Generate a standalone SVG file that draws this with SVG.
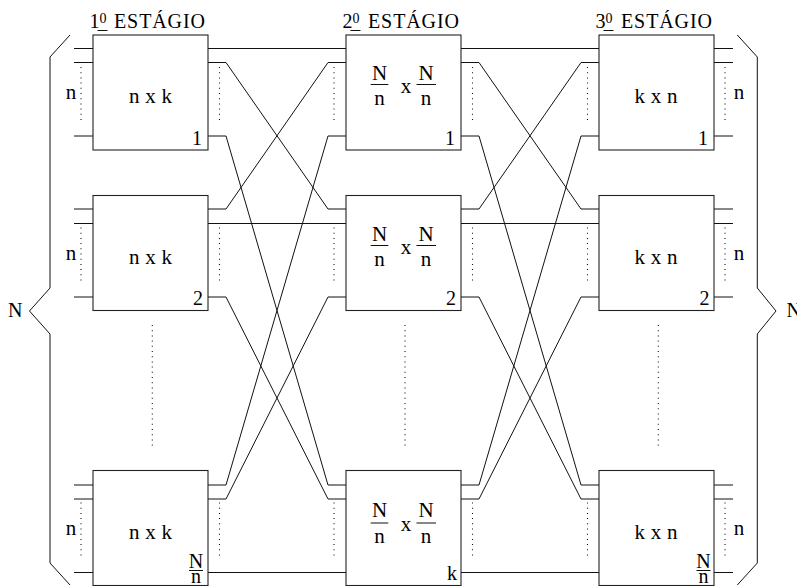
<svg xmlns="http://www.w3.org/2000/svg" width="797" height="586" viewBox="0 0 797 586">
<style>
  .box{fill:#fff;stroke:#222;stroke-width:1.1}
  .ln{fill:none;stroke:#111;stroke-width:1}
  .dot{fill:none;stroke:#111;stroke-width:1.1;stroke-dasharray:1 4.2}
  text{font-family:"Liberation Serif","Times New Roman",serif;fill:#000;font-size:20px}
  .lbl{font-size:21px}
  .mid{text-anchor:middle}
  .end{text-anchor:end}
</style>
<rect width="797" height="586" fill="#fff"/>

<!-- titles -->
<g id="titles">
  <text><tspan x="89.5" y="27.7">1</tspan><tspan x="99.5" y="23" font-size="14">0</tspan><tspan x="114" y="27.7" textLength="91" lengthAdjust="spacing">ESTÁGIO</tspan></text>
  <line class="ln" x1="97.5" y1="30.5" x2="107.5" y2="30.5"/>
  <text><tspan x="342.5" y="27.7">2</tspan><tspan x="352.5" y="23" font-size="14">0</tspan><tspan x="368" y="27.7" textLength="91" lengthAdjust="spacing">ESTÁGIO</tspan></text>
  <line class="ln" x1="350.5" y1="30.5" x2="360.5" y2="30.5"/>
  <text><tspan x="595.5" y="27.7">3</tspan><tspan x="605.5" y="23" font-size="14">0</tspan><tspan x="621" y="27.7" textLength="91" lengthAdjust="spacing">ESTÁGIO</tspan></text>
  <line class="ln" x1="603.5" y1="30.5" x2="613.5" y2="30.5"/>
</g>

<!-- braces -->
<g id="brace-left">
  <path class="ln" d="M70 35 L50 57 V288 L29.5 311 L50 334 V563 L70 585"/>
  <text x="8" y="316.7" font-size="18">N</text>
</g>
<g id="brace-right">
  <path class="ln" d="M737.3 35 L757.3 57 V288 L776 311 L757.3 334 V563 L737.3 585"/>
  <text x="786.5" y="316.7" font-size="18">N</text>
</g>

<!-- connectors -->
<g id="connectors">
  <!-- stage 1 -> stage 2 -->
  <path class="ln" d="M208 48.5 H346"/>
  <path class="ln" d="M208 62.5 H226 L328 209 H346"/>
  <path class="ln" d="M208 136 H226 L328 485 H346"/>
  <path class="ln" d="M208 209 H226 L328 62.5 H346"/>
  <path class="ln" d="M208 223.5 H346"/>
  <path class="ln" d="M208 297 H226 L328 499 H346"/>
  <path class="ln" d="M208 485 H226 L328 136 H346"/>
  <path class="ln" d="M208 499 H226 L328 297 H346"/>
  <path class="ln" d="M208 572.5 H346"/>
  <!-- stage 2 -> stage 3 -->
  <path class="ln" d="M461 48.5 H599"/>
  <path class="ln" d="M461 62.5 H479 L581 209 H599"/>
  <path class="ln" d="M461 136 H479 L581 485 H599"/>
  <path class="ln" d="M461 209 H479 L581 62.5 H599"/>
  <path class="ln" d="M461 223.5 H599"/>
  <path class="ln" d="M461 297 H479 L581 499 H599"/>
  <path class="ln" d="M461 485 H479 L581 136 H599"/>
  <path class="ln" d="M461 499 H479 L581 297 H599"/>
  <path class="ln" d="M461 572.5 H599"/>
  <!-- inputs / outputs -->
  <path class="ln" d="M74 48.5 H93 M74 62.5 H93 M74 136 H93 M74 209 H93 M74 223.5 H93 M74 297 H93 M74 485 H93 M74 499 H93 M74 572.5 H93"/>
  <path class="ln" d="M714 48.5 H733 M714 62.5 H733 M714 136 H733 M714 209 H733 M714 223.5 H733 M714 297 H733 M714 485 H733 M714 499 H733 M714 572.5 H733"/>
  <!-- dotted elisions beside boxes -->
  <path class="dot" d="M81 67 V123 M219.5 67 V123 M334 67 V123 M472.5 67 V123 M587.5 67 V123 M725 67 V123"/>
  <path class="dot" d="M81 227.5 V283.5 M219.5 227.5 V283.5 M334 227.5 V283.5 M472.5 227.5 V283.5 M587.5 227.5 V283.5 M725 227.5 V283.5"/>
  <path class="dot" d="M81 502.5 V558.5 M219.5 502.5 V558.5 M334 502.5 V558.5 M472.5 502.5 V558.5 M587.5 502.5 V558.5 M725 502.5 V558.5"/>
  <!-- dotted elisions between rows -->
  <path class="dot" d="M152.3 325 V447 M405 325 V447 M658.3 325 V447"/>
</g>

<!-- stage 1 -->
<g id="s1-box1">
  <rect class="box" x="93" y="35" width="115" height="115"/>
  <text class="mid lbl" x="150.5" y="103.3" textLength="43" lengthAdjust="spacing">n x k</text>
  <text class="mid lbl" x="71" y="99">n</text>
  <text class="end" x="202" y="144.5">1</text>
</g>
<g id="s1-box2">
  <rect class="box" x="93" y="195.5" width="115" height="115"/>
  <text class="mid lbl" x="150.5" y="263.8" textLength="43" lengthAdjust="spacing">n x k</text>
  <text class="mid lbl" x="71" y="259.5">n</text>
  <text class="end" x="203" y="305">2</text>
</g>
<g id="s1-box3">
  <rect class="box" x="93" y="470.5" width="115" height="115"/>
  <text class="mid lbl" x="150.5" y="539" textLength="43" lengthAdjust="spacing">n x k</text>
  <text class="mid lbl" x="71" y="534.5">n</text>
  <text class="mid" x="196" y="567.5" font-size="18">N</text>
  <line class="ln" x1="189" y1="570.5" x2="203" y2="570.5"/>
  <text class="mid" x="196" y="583" font-size="18">n</text>
</g>

<!-- stage 2 -->
<g id="s2-box1">
  <rect class="box" x="346" y="35" width="115" height="115"/>
  <text class="mid lbl" x="379.5" y="79.5">N</text>
  <line class="ln" x1="370.7" y1="84.5" x2="388.3" y2="84.5"/>
  <text class="mid lbl" x="379.5" y="105">n</text>
  <text class="mid lbl" x="406" y="93.3">x</text>
  <text class="mid lbl" x="426" y="79.5">N</text>
  <line class="ln" x1="416.5" y1="84.5" x2="436" y2="84.5"/>
  <text class="mid lbl" x="426" y="105">n</text>
  <text class="end" x="455" y="144.5">1</text>
</g>
<g id="s2-box2">
  <rect class="box" x="346" y="195.5" width="115" height="115"/>
  <text class="mid lbl" x="379.5" y="240.5">N</text>
  <line class="ln" x1="370.7" y1="245.5" x2="388.3" y2="245.5"/>
  <text class="mid lbl" x="379.5" y="266">n</text>
  <text class="mid lbl" x="406" y="254">x</text>
  <text class="mid lbl" x="426" y="240.5">N</text>
  <line class="ln" x1="416.5" y1="245.5" x2="436" y2="245.5"/>
  <text class="mid lbl" x="426" y="266">n</text>
  <text class="end" x="456" y="305">2</text>
</g>
<g id="s2-box3">
  <rect class="box" x="346" y="470.5" width="115" height="115"/>
  <text class="mid lbl" x="379.5" y="517">N</text>
  <line class="ln" x1="370.7" y1="523" x2="388.3" y2="523"/>
  <text class="mid lbl" x="379.5" y="543">n</text>
  <text class="mid lbl" x="406" y="531">x</text>
  <text class="mid lbl" x="426" y="517">N</text>
  <line class="ln" x1="416.5" y1="523" x2="436" y2="523"/>
  <text class="mid lbl" x="426" y="543">n</text>
  <text class="end" x="457" y="580">k</text>
</g>

<!-- stage 3 -->
<g id="s3-box1">
  <rect class="box" x="599" y="35" width="115" height="115"/>
  <text class="mid lbl" x="656" y="103.3" textLength="43" lengthAdjust="spacing">k x n</text>
  <text class="mid lbl" x="739" y="99">n</text>
  <text class="end" x="708" y="144.5">1</text>
</g>
<g id="s3-box2">
  <rect class="box" x="599" y="195.5" width="115" height="115"/>
  <text class="mid lbl" x="656" y="263.8" textLength="43" lengthAdjust="spacing">k x n</text>
  <text class="mid lbl" x="739" y="259.5">n</text>
  <text class="end" x="709.5" y="305">2</text>
</g>
<g id="s3-box3">
  <rect class="box" x="599" y="470.5" width="115" height="115"/>
  <text class="mid lbl" x="656" y="539" textLength="43" lengthAdjust="spacing">k x n</text>
  <text class="mid lbl" x="739" y="534.5">n</text>
  <text class="mid" x="703.5" y="567.5" font-size="18">N</text>
  <line class="ln" x1="696.5" y1="570.5" x2="710.5" y2="570.5"/>
  <text class="mid" x="703.5" y="583" font-size="18">n</text>
</g>
</svg>
